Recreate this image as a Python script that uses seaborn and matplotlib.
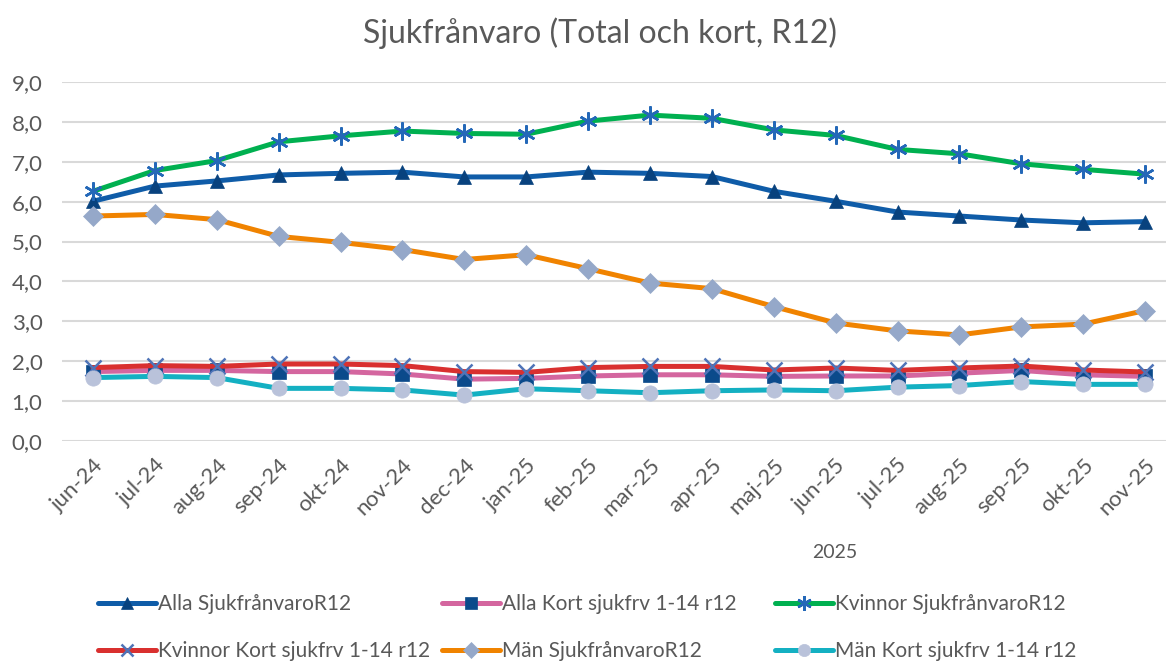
import matplotlib
matplotlib.use("Agg")
from matplotlib import pyplot as plt
import seaborn as sns
import pandas as pd

# data
months = ["jun-24", "jul-24", "aug-24", "sep-24", "okt-24", "nov-24", "dec-24", "jan-25", "feb-25",
          "mar-25", "apr-25", "maj-25", "jun-25", "jul-25", "aug-25", "sep-25", "okt-25", "nov-25"]

alla_total = [6.01, 6.39, 6.52, 6.67, 6.71, 6.74, 6.62, 6.62, 6.74,
              6.71, 6.63, 6.26, 6.01, 5.74, 5.64, 5.54, 5.47, 5.50]
alla_kort = [1.74, 1.77, 1.77, 1.74, 1.74, 1.68, 1.55, 1.57, 1.63,
             1.66, 1.66, 1.62, 1.63, 1.63, 1.70, 1.77, 1.66, 1.62]
kvinnor_total = [6.26, 6.78, 7.03, 7.50, 7.65, 7.77, 7.71, 7.69, 8.02,
                 8.17, 8.09, 7.80, 7.66, 7.31, 7.20, 6.95, 6.81, 6.69]
kvinnor_kort = [1.84, 1.89, 1.87, 1.93, 1.93, 1.89, 1.74, 1.72, 1.84,
                1.87, 1.87, 1.78, 1.83, 1.77, 1.83, 1.88, 1.78, 1.73]
man_total = [5.64, 5.68, 5.55, 5.13, 4.98, 4.80, 4.55, 4.67, 4.32,
             3.96, 3.82, 3.37, 2.96, 2.76, 2.66, 2.86, 2.93, 3.27]
man_kort = [1.59, 1.62, 1.59, 1.32, 1.32, 1.28, 1.15, 1.31, 1.26,
            1.21, 1.26, 1.28, 1.26, 1.35, 1.39, 1.49, 1.42, 1.42]

series_names = ["Alla SjukfrånvaroR12", "Alla Kort sjukfrv 1-14 r12", "Kvinnor SjukfrånvaroR12",
                "Kvinnor Kort sjukfrv 1-14 r12", "Män SjukfrånvaroR12", "Män Kort sjukfrv 1-14 r12"]
series_values = [alla_total, alla_kort, kvinnor_total, kvinnor_kort, man_total, man_kort]

# line colour, marker, marker face, marker edge, marker size
styles = [
    ("#0F5CA8", "^", "#08427E", "#08427E", 10),
    ("#D4669F", "s", "#0B4A8B", "#0B4A8B", 10),
    ("#00B050", (6, 2, 0), "#2468B8", "#2468B8", 13),
    ("#D9302F", "x", "#4F74B8", "#4F74B8", 11),
    ("#F08300", "D", "#95A8C9", "#95A8C9", 10),
    ("#14B0C2", "o", "#B9C2DA", "#B9C2DA", 11),
]

sns.set_style("white")
plt.rcParams["font.family"] = ["Lato", "DejaVu Sans"]
grey = "#595959"

fig = plt.figure(figsize=(11.66, 6.62), dpi=100)
ax = fig.add_axes([62 / 1166, 1 - 441 / 662, (1176 - 62) / 1166, (441 - 82) / 662])

handles = []
for name, vals, st in zip(series_names, series_values, styles):
    df = pd.DataFrame({"month": months, "value": vals})
    col, mk, mfc, mec, ms = st
    sns.lineplot(data=df, x="month", y="value", ax=ax, color=col, lw=3.6, sort=False,
                 marker=mk, markersize=ms, markerfacecolor=mfc, markeredgecolor=mec,
                 markeredgewidth=1.8 if mk in ("x",) or isinstance(mk, tuple) else 0.5,
                 label=name, legend=False)
    handles.append(ax.lines[-1])

ax.set_xlim(-0.5, 17.5)
ax.set_ylim(0, 9)
yt = [0, 1, 2, 3, 4, 5, 6, 7, 8, 9]
ax.set_yticks(yt)
ax.set_yticklabels([f"{v:.1f}".replace(".", ",") for v in yt])
ax.set_xticks(range(len(months)))
ax.set_xticklabels(months, rotation=45, ha="right", rotation_mode="anchor")
ax.tick_params(axis="y", length=0, pad=14, labelsize=16, labelcolor=grey)
ax.tick_params(axis="x", length=0, pad=10, labelsize=16, labelcolor=grey)
ax.grid(axis="y", color="#D9D9D9", lw=1.5)
ax.set_axisbelow(True)
for s in ax.spines.values():
    s.set_visible(False)
ax.set_xlabel("")
ax.set_ylabel("")

fig.text(600 / 1166, 1 - 33 / 662, "Sjukfrånvaro (Total och kort, R12)", ha="center", va="center",
         fontsize=23, color=grey)
fig.text(835 / 1166, 1 - 553 / 662, "2025", ha="center", va="center", fontsize=14, color=grey)

# legend laid out in three columns like the original
col_x = [98, 442, 775]
for i, x0 in enumerate(col_x):
    hs = [handles[i], handles[i + 3]]
    leg = fig.legend(hs, [h.get_label() for h in hs], loc="upper left",
                     bbox_to_anchor=(x0 / 1166, 1 - 594 / 662), frameon=False,
                     fontsize=15, handlelength=2.8, handletextpad=0.1, labelspacing=1.3,
                     borderaxespad=0, borderpad=0, markerscale=0.8)
    for t in leg.get_texts():
        t.set_color(grey)

fig.savefig("out.png", dpi=100)
